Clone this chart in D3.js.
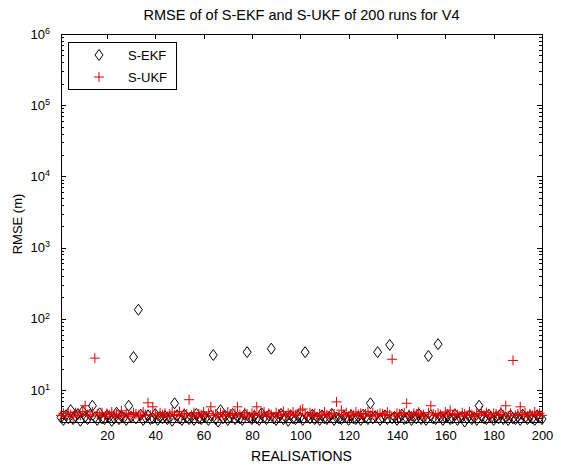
<!DOCTYPE html>
<html>
<head>
<meta charset="utf-8">
<script src="https://cdn.jsdelivr.net/npm/d3@7"></script>
<style>
  body { margin: 0; background: #fff; }
  svg { display: block; font-family: "Liberation Sans", Arial, sans-serif; }
  .axis path.domain { display: none; }
  .axis line { stroke: #000; shape-rendering: crispEdges; }
  .axis text { fill: #000; font-size: 13px; }
</style>
</head>
<body>
<div id="chart"></div>
<script>
const title = 'RMSE of of S-EKF and S-UKF of 200 runs for V4';
const xLabel = 'REALISATIONS';
const yLabel = 'RMSE (m)';
const seriesNames = ['S-EKF', 'S-UKF'];
const xTicks = [20, 40, 60, 80, 100, 120, 140, 160, 180, 200];
const yDecades = [1, 2, 3, 4, 5, 6];

// RMSE per realisation
const ekf = [
  4.1, 3.8, 4.4, 4.0, 5.2, 3.9, 4.3, 4.6, 3.7, 5.0, 4.2, 3.9, 4.5, 6.0, 4.1, 3.8, 4.7, 4.0, 3.9, 4.4,
  4.2, 3.7, 4.0, 4.8, 3.9, 4.3, 4.1, 3.8, 6.0, 4.2, 29, 4.0, 134, 4.5, 3.8, 4.1, 4.4, 3.9, 4.0, 4.6,
  3.8, 4.2, 4.0, 4.3, 3.9, 4.1, 3.7, 6.5, 4.4, 4.0, 3.8, 4.5, 4.1, 3.9, 4.2, 3.8, 4.6, 4.0, 3.9, 4.3,
  4.1, 3.8, 4.4, 31, 3.9, 3.6, 5.2, 4.0, 4.3, 3.8, 4.1, 4.6, 3.9, 4.2, 4.0, 3.8, 4.5, 34, 4.1, 3.9,
  4.3, 4.0, 3.8, 4.7, 4.1, 3.9, 4.4, 38, 4.0, 3.8, 4.2, 4.6, 3.9, 4.1, 3.7, 4.4, 4.0, 3.9, 4.3, 4.1,
  3.8, 34, 4.2, 4.0, 4.5, 3.9, 4.1, 3.8, 4.4, 4.0, 3.9, 4.2, 4.6, 3.8, 4.1, 4.0, 3.9, 4.3, 4.1, 3.8,
  4.4, 4.0, 3.9, 4.2, 3.8, 4.5, 4.1, 3.9, 6.5, 4.0, 4.3, 34, 3.8, 4.1, 4.4, 3.9, 43, 4.0, 4.2, 3.8,
  4.1, 4.5, 3.9, 4.0, 4.3, 3.8, 4.2, 4.0, 4.6, 3.9, 4.1, 3.8, 30, 4.4, 4.0, 3.9, 44, 4.2, 3.8, 4.1,
  4.3, 3.9, 4.0, 4.5, 3.8, 4.1, 4.2, 3.6, 4.0, 4.4, 3.9, 4.1, 3.8, 6.0, 4.3, 4.0, 3.9, 4.5, 4.1, 3.8,
  4.2, 4.0, 4.6, 3.9, 4.1, 3.8, 4.4, 4.0, 3.9, 4.2, 3.8, 4.5, 4.1, 3.9, 4.3, 4.0, 3.8, 4.4, 4.1, 3.9
];
const ukf = [
  4.4, 4.7, 4.3, 4.9, 4.5, 4.2, 4.8, 4.6, 4.4, 5.0, 6.0, 4.5, 4.3, 4.9, 28, 4.6, 4.4, 4.8, 4.2, 4.7,
  4.5, 4.9, 4.3, 4.6, 4.4, 5.1, 4.2, 4.7, 4.5, 4.3, 4.8, 4.6, 4.4, 4.2, 4.9, 4.5, 6.6, 4.4, 5.8, 4.6,
  4.3, 4.8, 4.5, 4.7, 4.2, 4.6, 4.9, 4.4, 4.5, 5.0, 4.3, 4.7, 4.6, 7.3, 4.4, 4.8, 4.2, 4.6, 4.5, 4.9,
  4.3, 4.7, 5.8, 4.4, 4.6, 4.2, 4.8, 4.5, 4.3, 4.9, 4.6, 4.4, 4.7, 5.8, 4.5, 4.3, 4.8, 4.6, 4.2, 4.7,
  4.5, 5.8, 4.4, 4.6, 4.9, 4.3, 4.7, 4.5, 4.2, 4.8, 4.6, 4.4, 5.0, 4.3, 4.7, 4.5, 4.9, 4.4, 4.6, 5.2,
  5.4, 4.6, 4.3, 4.8, 4.5, 4.7, 4.2, 4.6, 4.4, 4.9, 4.5, 4.3, 4.7, 4.6, 6.8, 4.4, 5.2, 4.5, 4.8, 4.3,
  4.6, 4.4, 4.9, 4.5, 4.7, 4.2, 4.6, 5.0, 4.4, 4.8, 4.3, 4.5, 4.7, 4.6, 4.4, 4.9, 4.5, 27, 4.3, 4.7,
  4.6, 4.4, 4.8, 6.5, 4.5, 4.3, 4.7, 4.6, 4.9, 4.4, 4.5, 4.2, 4.8, 6.0, 4.6, 4.4, 4.7, 4.5, 4.3, 4.9,
  4.6, 5.2, 4.4, 4.7, 4.5, 4.3, 4.8, 4.6, 4.4, 4.9, 4.5, 4.2, 4.7, 4.6, 5.0, 4.4, 4.8, 4.5, 4.3, 4.7,
  4.6, 4.4, 4.9, 4.5, 6.0, 4.3, 4.7, 26, 4.4, 4.6, 5.8, 4.5, 4.8, 4.3, 4.6, 4.4, 4.9, 4.5, 4.7, 4.4
];

const W = 561, H = 471;
const margin = { top: 34, right: 19, bottom: 49, left: 61 };
const width = W - margin.left - margin.right;
const height = H - margin.top - margin.bottom;

const x = d3.scaleLinear().domain([1, 200]).range([0, width]);
const y = d3.scaleLog().domain([3.55, 1e6]).range([height, 0]);

const majors = yDecades.map((e) => Math.pow(10, e));
const minors = [];
for (let e = 0; e <= 5; e++) {
  for (let m = 2; m <= 9; m++) {
    const v = m * Math.pow(10, e);
    if (v >= 3.55 && v <= 1e6) minors.push(v);
  }
}

const svg = d3.select('#chart').append('svg').attr('width', W).attr('height', H);
const g = svg.append('g').attr('transform', `translate(${margin.left},${margin.top})`);

// box
g.append('rect')
  .attr('width', width)
  .attr('height', height)
  .attr('fill', '#fff')
  .attr('stroke', '#000')
  .attr('shape-rendering', 'crispEdges');

// x axes (inward ticks)
g.append('g').attr('class', 'axis')
  .attr('transform', `translate(0,${height})`)
  .call(d3.axisBottom(x).tickValues(xTicks).tickSize(-5).tickPadding(9).tickFormat(d3.format('d')));
g.append('g').attr('class', 'axis')
  .call(d3.axisTop(x).tickValues(xTicks).tickSize(-5).tickFormat(''));

// y axes, major + minor
const yLeft = g.append('g').attr('class', 'axis')
  .call(d3.axisLeft(y).tickValues(majors).tickSize(-5).tickPadding(9).tickFormat(''));
g.append('g').attr('class', 'axis')
  .call(d3.axisLeft(y).tickValues(minors).tickSize(-3).tickFormat(''));
g.append('g').attr('class', 'axis')
  .attr('transform', `translate(${width},0)`)
  .call(d3.axisRight(y).tickValues(majors).tickSize(-5).tickFormat(''));
g.append('g').attr('class', 'axis')
  .attr('transform', `translate(${width},0)`)
  .call(d3.axisRight(y).tickValues(minors).tickSize(-3).tickFormat(''));

// 10^n labels
yLeft.selectAll('.tick text').each(function (d) {
  const t = d3.select(this).attr('dy', '0.32em').attr('x', -11);
  t.append('tspan').text('10');
  t.append('tspan').attr('dy', '-0.55em').attr('font-size', '9px').text(Math.round(Math.log10(d)));
});

// markers
const diamond = 'M0,-5.5L4,0L0,5.5L-4,0Z';
const plus = 'M-5,0H5M0,-5V5';

g.append('g').selectAll('path')
  .data(ekf)
  .join('path')
  .attr('transform', (d, i) => `translate(${x(i + 1)},${y(d)})`)
  .attr('d', diamond)
  .attr('fill', 'none')
  .attr('stroke', '#000')
  .attr('stroke-width', 1);

g.append('g').selectAll('path')
  .data(ukf)
  .join('path')
  .attr('transform', (d, i) => `translate(${x(i + 1)},${y(d)})`)
  .attr('d', plus)
  .attr('fill', 'none')
  .attr('stroke', '#e00000')
  .attr('stroke-width', 1);

// legend
const lg = g.append('g').attr('transform', 'translate(7,8)');
lg.append('rect')
  .attr('width', 108).attr('height', 47)
  .attr('fill', '#fff').attr('stroke', '#000')
  .attr('shape-rendering', 'crispEdges');
seriesNames.forEach((name, i) => {
  const row = lg.append('g').attr('transform', `translate(0,${13 + i * 22})`);
  row.append('path')
    .attr('transform', 'translate(31,0)')
    .attr('d', i === 0 ? diamond : plus)
    .attr('fill', 'none')
    .attr('stroke', i === 0 ? '#000' : '#e00000');
  row.append('text')
    .attr('x', 60).attr('dy', '0.35em')
    .attr('font-size', '13px')
    .text(name);
});

// titles
svg.append('text')
  .attr('x', margin.left + width / 2).attr('y', 20)
  .attr('text-anchor', 'middle').attr('font-size', '14.5px')
  .text(title);
svg.append('text')
  .attr('x', margin.left + width / 2).attr('y', 461)
  .attr('text-anchor', 'middle').attr('font-size', '14px')
  .text(xLabel);
svg.append('text')
  .attr('transform', `translate(22,${margin.top + height / 2 - 4}) rotate(-90)`)
  .attr('text-anchor', 'middle').attr('font-size', '13px')
  .text(yLabel);
</script>
</body>
</html>
